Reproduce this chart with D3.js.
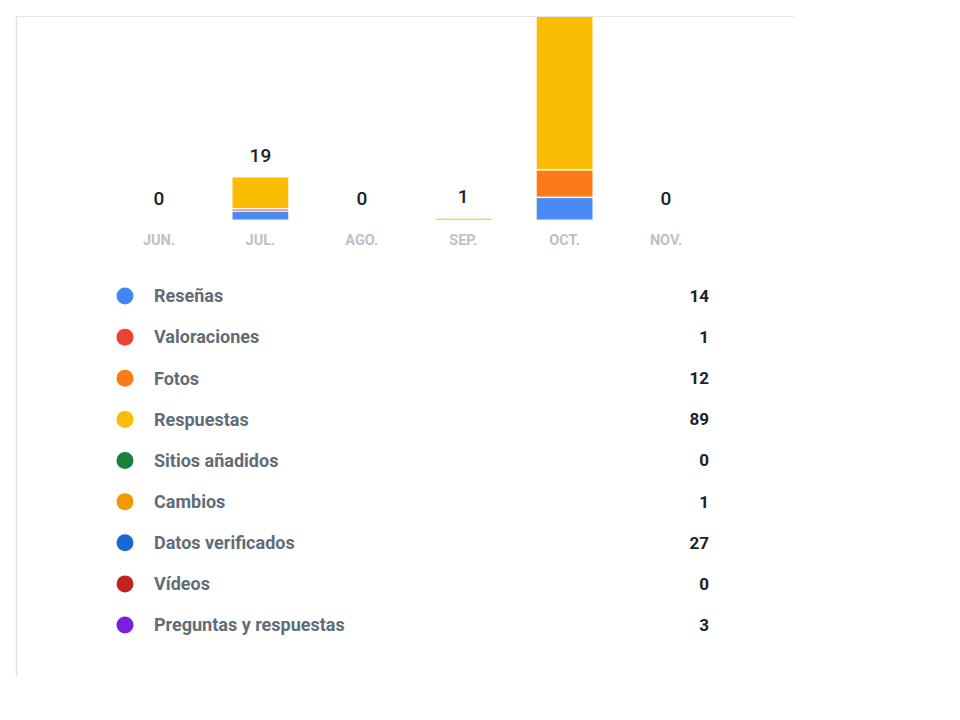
<!DOCTYPE html>
<html>
<head>
<meta charset="utf-8">
<script src="https://cdn.jsdelivr.net/npm/d3@7"></script>
<style>
  html, body { margin: 0; padding: 0; background: #ffffff; }
  svg { display: block; font-family: Roboto, "Noto Sans", Arial, sans-serif; }
</style>
</head>
<body>
<svg id="chart" width="960" height="720"></svg>
<script>
// ---- data ----
const months = ["JUN.", "JUL.", "AGO.", "SEP.", "OCT.", "NOV."];
const barSeries = ["Reseñas", "Valoraciones", "Fotos", "Respuestas"];
const resenas      = [0, 4, 0, 0, 10, 0];
const valoraciones = [0, 1, 0, 0, 0, 0];
const fotos        = [0, 0, 0, 0, 12, 0];
const respuestas   = [0, 14, 0, 1, 74, 0];

const legendLabels = ["Reseñas", "Valoraciones", "Fotos", "Respuestas", "Sitios añadidos",
                      "Cambios", "Datos verificados", "Vídeos", "Preguntas y respuestas"];
const legendTotals = [14, 1, 12, 89, 0, 1, 27, 0, 3];
const legendColors = ["#4285f4", "#ea4335", "#fa7b17", "#fbbc04", "#188038",
                      "#f29900", "#1967d2", "#c5221f", "#7c1ee0"];
const barColors = ["#4a8af4", "#ea4335", "#fa7b17", "#fbbc04"];

// ---- build table ----
const table = months.map((m, i) => ({
  month: m,
  "Reseñas": resenas[i],
  "Valoraciones": valoraciones[i],
  "Fotos": fotos[i],
  "Respuestas": respuestas[i]
}));
const totals = table.map(d => barSeries.reduce((s, k) => s + d[k], 0));

const svg = d3.select("#chart");

// frame lines (cropped screenshot border)
svg.append("line").attr("x1", 16.5).attr("x2", 16.5).attr("y1", 16).attr("y2", 676)
  .attr("stroke", "#e3e3e3").attr("stroke-width", 1.5);
svg.append("line").attr("x1", 16).attr("x2", 794).attr("y1", 16.5).attr("y2", 16.5)
  .attr("stroke", "#e6e6e6").attr("stroke-width", 1.2);

const baseline = 220.3;
const topVisible = 17;
const x = d3.scaleBand().domain(months).range([108.3, 716.7]).paddingInner(0.45).paddingOuter(0.225);
const y = d3.scaleLinear().domain([0, d3.max(totals)]).range([baseline, 0]);

svg.append("defs").append("clipPath").attr("id", "clip")
  .append("rect").attr("x", 17).attr("y", topVisible).attr("width", 940).attr("height", 700);

const plot = svg.append("g").attr("clip-path", "url(#clip)");

const stack = d3.stack().keys(barSeries)(table);

plot.selectAll("g.series").data(stack).join("g")
  .attr("class", "series")
  .attr("fill", (d, i) => barColors[i])
  .selectAll("rect")
  .data(d => d.filter(p => p[1] - p[0] > 0))
  .join("rect")
  .attr("x", p => x(p.data.month))
  .attr("width", x.bandwidth())
  .attr("y", p => y(p[1]) + 0.75)
  .attr("height", p => Math.max(1, y(p[0]) - y(p[1]) - 1.5));

// value labels (only those inside the visible, cropped area)
const labelData = table.map((d, i) => ({ month: d.month, total: totals[i] }))
  .filter(d => y(d.total) - 15 - 16 > topVisible);
plot.selectAll("text.val").data(labelData).join("text")
  .attr("class", "val")
  .attr("x", d => x(d.month) + x.bandwidth() / 2)
  .attr("y", d => y(d.total) - 15)
  .attr("text-anchor", "middle")
  .attr("font-size", 19)
  .attr("font-weight", 500)
  .attr("fill", "#202124")
  .text(d => d.total);

// month axis labels
const xAxis = d3.axisBottom(x).tickSize(0).tickPadding(0);
const ax = svg.append("g").attr("transform", `translate(0,${baseline + 25})`).call(xAxis);
ax.select(".domain").remove();
ax.selectAll("text")
  .attr("font-family", "Roboto, sans-serif")
  .attr("font-size", 14.5)
  .attr("font-weight", 700)
  .attr("fill", "#bcc1c7")
  .attr("dy", 0);

// legend
const rowY = d3.scalePoint().domain(legendLabels).range([296, 625]);
const rows = svg.append("g").selectAll("g").data(legendLabels).join("g")
  .attr("transform", d => `translate(0,${rowY(d)})`);
rows.append("circle").attr("cx", 125).attr("cy", 0).attr("r", 8.5)
  .attr("fill", (d, i) => legendColors[i]);
rows.append("text").attr("x", 154).attr("y", 0).attr("dy", "0.35em")
  .attr("font-size", 18).attr("font-weight", 700).attr("fill", "#5f6d78")
  .text(d => d);
rows.append("text").attr("x", 709).attr("y", 0).attr("dy", "0.35em")
  .attr("text-anchor", "end")
  .attr("font-size", 17).attr("font-weight", 700).attr("fill", "#202124")
  .text((d, i) => legendTotals[i]);
</script>
</body>
</html>
